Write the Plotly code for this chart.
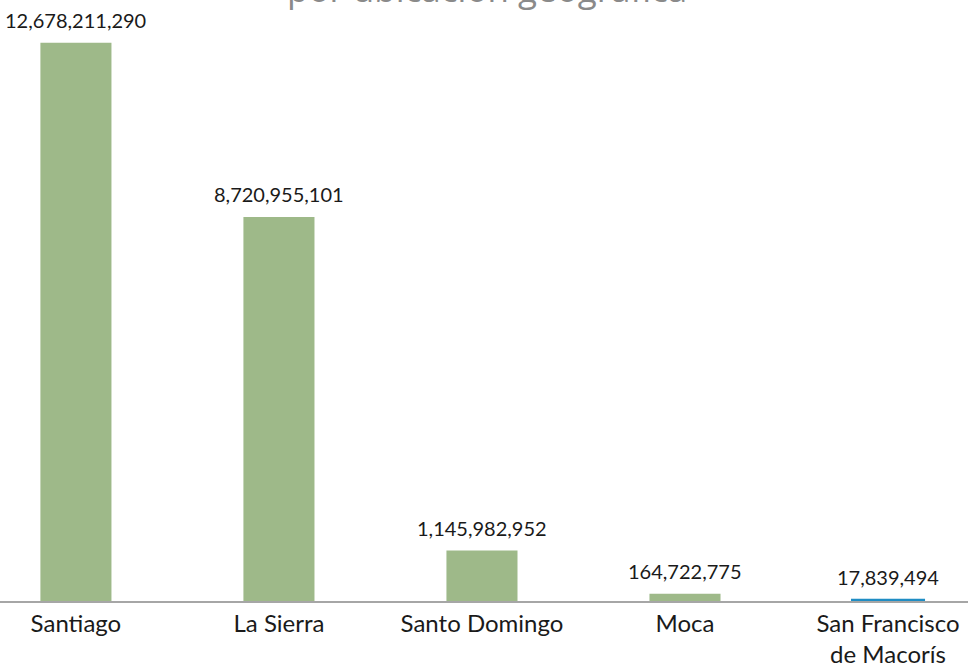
import plotly.graph_objects as go

categories = ["Santiago", "La Sierra", "Santo Domingo", "Moca", "San Francisco<br>de Macorís"]
values = [12678211290, 8720955101, 1145982952, 164722775, 17839494]
colors = ["#9eb989", "#9eb989", "#9eb989", "#9eb989", "#1f8dc4"]
outline = [0, 0, 0, 0, 3]
labels = [f"{v:,}" for v in values]

fig = go.Figure(go.Bar(
    x=categories, y=values, marker_color=colors, width=0.35,
    marker_line=dict(color=colors, width=outline), hoverinfo="x+y",
))

for c, v, t in zip(categories, values, labels):
    fig.add_annotation(x=c, y=v, text=t, showarrow=False, yanchor="bottom", yshift=9,
                       font=dict(family="Lato", size=20, color="#1a1a1a"))

fig.add_annotation(
    text="por ubicación geográfica", xref="paper", yref="paper",
    x=0.503, y=0.977, yanchor="bottom", showarrow=False,
    font=dict(family="Open Sans", size=35, color="#8a8a8a"),
)

fig.update_layout(
    width=968, height=668, margin=dict(l=0, r=0, t=0, b=64),
    plot_bgcolor="white", paper_bgcolor="white", showlegend=False,
    xaxis=dict(range=[-0.374, 4.394], showline=True, linecolor="#a6a6a6", linewidth=2,
               ticks="", tickfont=dict(family="Lato", size=24, color="#1a1a1a")),
    yaxis=dict(range=[0, 13.65e9], visible=False, showgrid=False),
    font=dict(family="Lato"),
)

fig.write_html("out.html", config={"displayModeBar": False},
               post_script="document.body.style.margin='0';document.body.style.overflow='hidden';")
